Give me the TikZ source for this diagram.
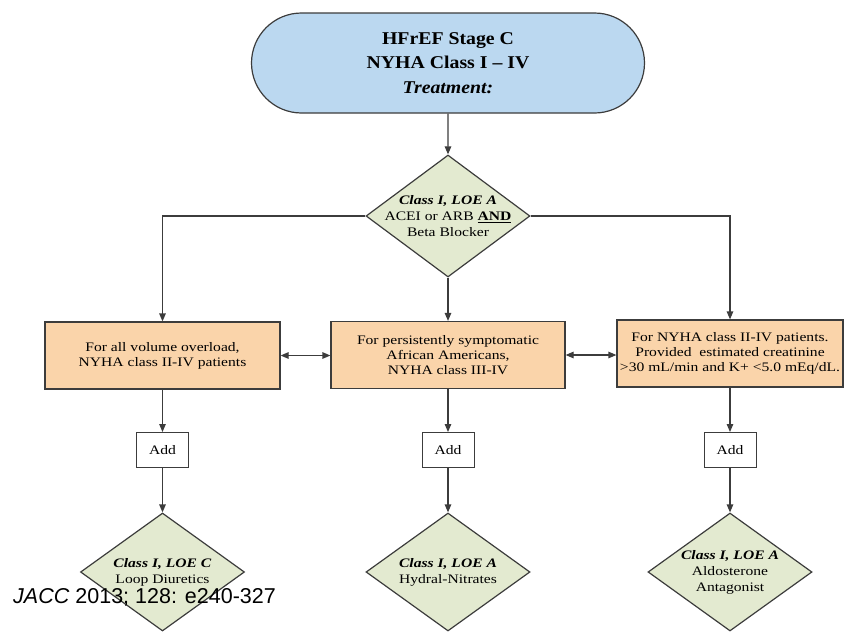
\documentclass[tikz,border=0pt]{standalone}
\usepackage{fontspec}
\setmainfont{Liberation Serif}[FakeStretch=1.2]
\newfontfamily\titlefont{Liberation Serif}[FakeStretch=1.1]
\newfontfamily\citefont{Liberation Sans}
\usetikzlibrary{shapes.geometric, shapes.misc}
\usetikzlibrary{arrows.meta}
\usetikzlibrary{positioning}

\definecolor{termblue}{RGB}{187,216,240}
\definecolor{boxpeach}{RGB}{250,212,170}
\definecolor{diagreen}{RGB}{227,234,208}
\definecolor{linegray}{RGB}{60,60,60}

\tikzset{
  arr/.style={draw=linegray, line width=1.2pt, -{Triangle[length=8pt,width=6.5pt]}},
  dblarr/.style={draw=linegray, line width=1.2pt, {Triangle[length=8pt,width=6.5pt]}-{Triangle[length=8pt,width=6.5pt]}},
  term/.style={rounded rectangle, draw=linegray, line width=1.2pt, fill=termblue,
    minimum width=393pt, minimum height=100pt, inner sep=0pt, align=center,
    font=\titlefont\fontsize{18}{24.5}\selectfont\bfseries},
  pbox/.style={rectangle, draw=linegray, line width=1.2pt, fill=boxpeach,
    minimum width=235pt, minimum height=67pt, inner sep=0pt, align=center,
    font=\fontsize{13}{15}\selectfont},
  addbox/.style={rectangle, draw=linegray, line width=1pt, fill=white,
    minimum width=52pt, minimum height=35pt, inner sep=0pt, font=\fontsize{13}{15}\selectfont},
  dia/.style={diamond, draw=linegray, line width=1.2pt, fill=diagreen,
    minimum width=164pt, minimum height=118pt, inner sep=0pt},
  diatext/.style={align=center, inner sep=0pt, font=\fontsize{13}{16}\selectfont},
}

\begin{document}
\begin{tikzpicture}[x=1pt, y=-1pt]
\useasboundingbox (0,0) rectangle (844,632);

% top of the chart
\node[term] (top) at (448,63) {HFrEF Stage C\\NYHA Class I – IV\\\textit{Treatment:}};

\node[dia, minimum height=122pt] (d1) at (448,216) {};
\node[diatext] (d1t) at (d1) {\textbf{\textit{Class I, LOE A}}\\ACEI or ARB \underline{\textbf{AND}}\\Beta Blocker};

% three patient groups
\node[pbox] (lbox) at (162.5,355.5) {For all volume overload,\\NYHA class II-IV patients};
\node[pbox, minimum width=234pt] (mbox) at (448,355) {For persistently symptomatic\\African Americans,\\NYHA class III-IV};
\node[pbox, minimum width=226pt] (rbox) at (730,353.5) {For NYHA class II-IV patients.\\Provided\ \ estimated creatinine\\>30 mL/min and K+ <5.0 mEq/dL.};

\node[addbox] (ladd) at (162.5,450) {Add};
\node[addbox] (madd) at (448,450) {Add};
\node[addbox] (radd) at (730,450) {Add};

\node[dia] (ld) at (162.5,572) {};
\node[diatext] (ldt) at (ld) {\textbf{\textit{Class I, LOE C}}\\Loop Diuretics};
\node[dia] (md) at (448,572) {};
\node[diatext] (mdt) at (md) {\textbf{\textit{Class I, LOE A}}\\Hydral-Nitrates};
\node[dia] (rd) at (730,572) {};
\node[diatext] (rdt) at (rd) {\textbf{\textit{Class I, LOE A}}\\Aldosterone\\Antagonist};

% connectors
\draw[arr] (top) -- (d1);
\draw[arr] (d1.west) -| (lbox.north);
\draw[arr] (d1.east) -| (rbox.north);
\draw[arr] (d1) -- (mbox);

\draw[dblarr] (lbox.east) -- (lbox.east -| mbox.west);
\draw[dblarr] (mbox.east) -- (mbox.east -| rbox.west);

\draw[arr] (lbox) -- (ladd);
\draw[arr] (mbox) -- (madd);
\draw[arr] (rbox) -- (radd);
\draw[arr] (ladd) -- (ld);
\draw[arr] (madd) -- (md);
\draw[arr] (radd) -- (rd);

\node[anchor=base west, inner sep=0pt] (cite) at (13,603)
  {\citefont\fontsize{21.5}{24}\selectfont\textit{JACC} 2013; 128: e240-327};

\end{tikzpicture}
\end{document}
